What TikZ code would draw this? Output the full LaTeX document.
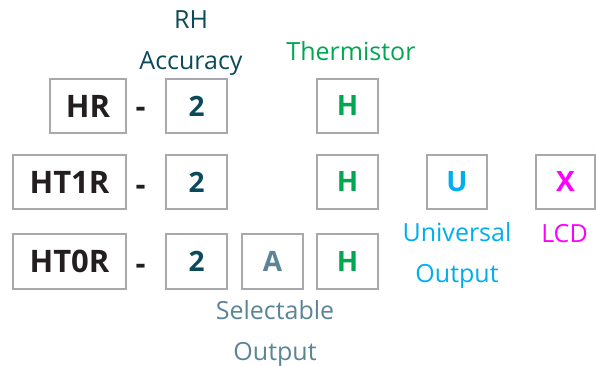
\documentclass[tikz,border=0pt]{standalone}
\usepackage{fontspec}
\setmainfont{Open Sans}
\usetikzlibrary{positioning}
\definecolor{cFrame}{HTML}{A7A9AC}
\definecolor{cCode}{HTML}{231F20}
\definecolor{cAcc}{HTML}{0B4A5A}
\definecolor{cTherm}{HTML}{00A651}
\definecolor{cSel}{HTML}{5B8595}
\definecolor{cUni}{HTML}{00AEEF}
\definecolor{cLcd}{HTML}{FF00FF}

\begin{document}
\begin{tikzpicture}[x=1pt,y=-1pt,
  box/.style={draw=cFrame,line width=1.6pt,minimum width=61pt,minimum height=54pt,
    inner sep=0,font=\bfseries\fontsize{28}{28}\selectfont},
  model/.style={box,text=cCode,font=\bfseries\fontsize{31}{31}\selectfont},
  hyphen/.style={text=cCode,inner sep=0,anchor=base,font=\bfseries\fontsize{31}{31}\selectfont},
  tag/.style={align=center,inner sep=0,font=\fontsize{25}{41}\selectfont}]
  \useasboundingbox (0,0) rectangle (596,366);
  % row 1
  \node[model,minimum width=76pt] (hr) at (88,106) {HR};
  \node[hyphen] (d1) at (140.5,118) {-};
  \node[box,text=cAcc] (acc1) at (196.5,106) {2};
  \node[box,text=cTherm] (th1) at (347.5,106) {H};
  % row 2
  \node[model,minimum width=113pt] (ht1) at (69.5,182) {HT1R};
  \node[hyphen] (d2) at (140.5,195) {-};
  \node[box,text=cAcc] (acc2) at (196.5,182) {2};
  \node[box,text=cTherm] (th2) at (347.5,182) {H};
  \node[box,text=cUni,minimum width=60pt] (uni) at (457,182) {U};
  \node[box,text=cLcd,minimum width=59pt] (lcd) at (565.5,182) {X};
  % row 3
  \node[model,minimum width=113pt,minimum height=55pt] (ht0) at (69.5,261.5) {HT0R};
  \node[hyphen] (d3) at (140.5,274.5) {-};
  \node[box,text=cAcc,minimum height=55pt] (acc3) at (196.5,261.5) {2};
  \node[box,text=cSel,minimum height=55pt] (sel) at (272.5,261.5) {A};
  \node[box,text=cTherm,minimum height=55pt] (th3) at (347.5,261.5) {H};
  % labels
  \node[tag,text=cAcc,above=2pt of acc1,xshift=-5.5pt] (accL) {RH\\Accuracy};
  \node[tag,text=cTherm,above=17pt of th1,xshift=3.5pt] (thL) {Thermistor};
  \node[tag,text=cUni,below=13pt of uni] (uniL) {Universal\\Output};
  \node[tag,text=cLcd,below=14pt of lcd,xshift=-1pt] (lcdL) {LCD};
  \node[tag,text=cSel,below=11pt of sel,xshift=2.5pt] (selL) {Selectable\\Output};
\end{tikzpicture}
\end{document}
